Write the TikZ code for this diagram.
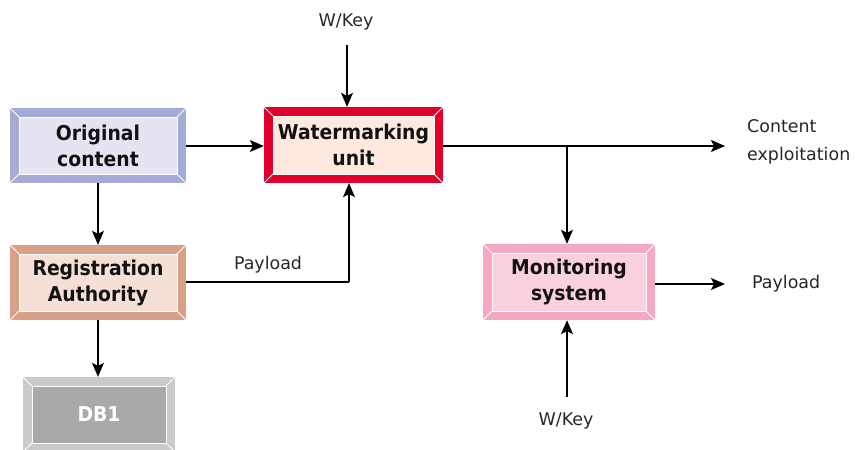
\documentclass[tikz,border=0pt]{standalone}
\usepackage{fontspec}
\setmainfont{DejaVu Sans}
\newfontfamily\boxfont[FakeStretch=0.92]{DejaVu Sans}
\usetikzlibrary{arrows.meta}
\definecolor{ocF}{HTML}{A4ACD6}\definecolor{ocI}{HTML}{E4E4F2}
\definecolor{wmF}{HTML}{E0002B}\definecolor{wmI}{HTML}{FDE9DD}
\definecolor{raF}{HTML}{D8A088}\definecolor{raI}{HTML}{F5E0D6}
\definecolor{dbF}{HTML}{CACACA}\definecolor{dbI}{HTML}{A9A9A9}
\definecolor{moF}{HTML}{F4A8C2}\definecolor{moI}{HTML}{F9D0DE}
\tikzset{
  bevel/.style 2 args={rectangle, fill=#1, inner sep=0pt, align=center,
    font=\boxfont\fontsize{20.5}{26}\selectfont\bfseries, text=black!93,
    path picture={
      \coordinate (pNW) at (path picture bounding box.north west);
      \coordinate (pSE) at (path picture bounding box.south east);
      \coordinate (pNE) at (path picture bounding box.north east);
      \coordinate (pSW) at (path picture bounding box.south west);
      \fill[#2, draw=white, line width=0.8bp] ([shift={(9bp,-9bp)}]pNW) rectangle ([shift={(-9bp,9bp)}]pSE);
      \draw[white, line width=0.8bp] (pNW) -- ([shift={(9bp,-9bp)}]pNW)
        (pNE) -- ([shift={(-9bp,-9bp)}]pNE)
        (pSW) -- ([shift={(9bp,9bp)}]pSW)
        (pSE) -- ([shift={(-9bp,9bp)}]pSE);
    }},
  lbl/.style={font=\fontsize{17.5}{28}\selectfont, text=black!85, inner sep=0pt},
  arr/.style={line width=1.2bp, -{Stealth[length=14bp,width=12bp,inset=3bp]}},
  ln/.style={line width=1.2bp}
}
\begin{document}
\begin{tikzpicture}[x=1bp,y=-1bp]
\useasboundingbox (0,0) rectangle (855,450);
\node[bevel={ocF}{ocI}, minimum width=176bp, minimum height=75bp] (orig) at (98,145.5) {Original\\content};
\node[bevel={wmF}{wmI}, minimum width=179bp, minimum height=76bp] (wm) at (353.5,145) {Watermarking\\unit};
\node[bevel={raF}{raI}, minimum width=176bp, minimum height=75bp] (ra) at (98,282.5) {Registration\\Authority};
\node[bevel={dbF}{dbI}, minimum width=152bp, minimum height=75bp, text=white] (db) at (99,414.5) {DB1};
\node[bevel={moF}{moI}, minimum width=172bp, minimum height=76bp] (mon) at (569,282) {Monitoring\\system};

\node[lbl] (wk1) at (346,22) {W/Key};
\node[lbl] (wk2) at (566,421) {W/Key};
\node[lbl] (pl1) at (268,265) {Payload};
\node[lbl, anchor=west] (pl2) at (752,284) {Payload};
\node[lbl, anchor=west, align=left] (ce) at (747,142) {Content\\exploitation};

\coordinate (k1) at (347,45);
\coordinate (k2) at (567,397);
\coordinate (pb) at (349,282);
\coordinate (ceA) at (725,146);
\coordinate (br) at (567,146);
\coordinate (peA) at (725,284);

\draw[arr] (k1) -- (k1 |- wm.north);
\draw[arr] (orig.east |- br) -- (wm.west |- br);
\draw[arr] (orig.south) -- (ra.north);
\draw[arr] (ra.south) -- (ra.south |- db.north);
\draw[ln] (ra.east |- pb) -- (pb);
\draw[arr] (pb) -- (pb |- wm.south);
\draw[arr] (wm.east |- br) -- (ceA);
\draw[arr] (br) -- (br |- mon.north);
\draw[arr] (mon.east |- peA) -- (peA);
\draw[arr] (k2) -- (k2 |- mon.south);
\end{tikzpicture}
\end{document}
